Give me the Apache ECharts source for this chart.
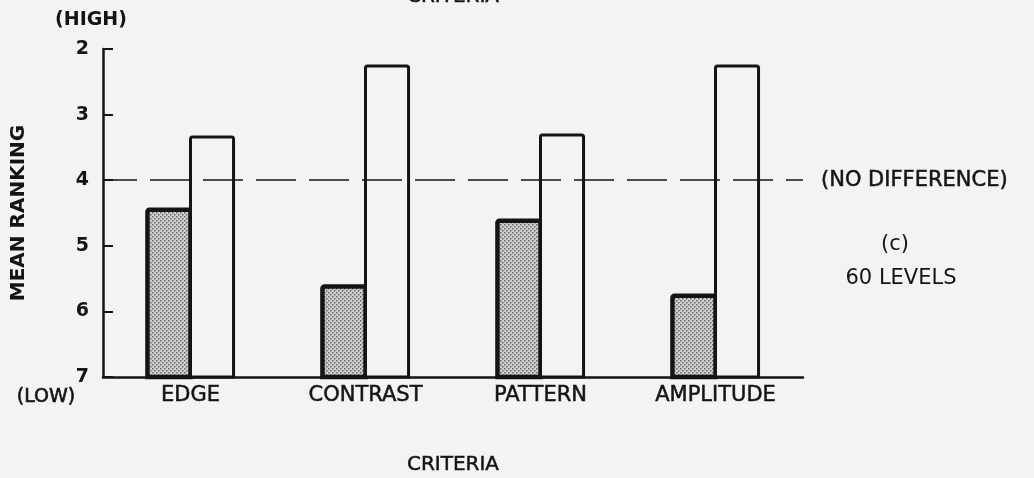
<!DOCTYPE html>
<html>
<head>
<meta charset="utf-8">
<title>Mean ranking by criteria — 60 levels</title>
<script src="https://cdn.jsdelivr.net/npm/echarts@6/dist/echarts.min.js"></script>
<style>
  html, body { margin: 0; padding: 0; background: #f3f3f1; }
  #chart { width: 1034px; height: 478px; }
</style>
</head>
<body>
<div id="chart"></div>
<script>
// Criteria along the horizontal axis
const categories = ['EDGE', 'CONTRAST', 'PATTERN', 'AMPLITUDE'];
// Mean ranking of the stippled (left) bar in each pair
const stippledValues = [4.45, 5.62, 4.62, 5.76];
// Mean ranking of the open (right) bar in each pair
const openValues = [3.34, 2.26, 3.31, 2.26];
// Ranking scale: 2 (high) at the top down to 7 (low) at the bottom
const rankTicks = [2, 3, 4, 5, 6, 7];
const noDifference = 4;

const RANK_MIN = rankTicks[0];
const RANK_MAX = rankTicks[rankTicks.length - 1];
const INK = '#141414';
const PAPER = '#f3f3f1';
const FONT = 'DejaVu Sans';

// Halftone stipple used to fill the shaded bars
function makeStipple() {
  const c = document.createElement('canvas');
  c.width = 4; c.height = 4;
  const g = c.getContext('2d');
  g.fillStyle = '#cfcfcf';
  g.fillRect(0, 0, 4, 4);
  g.fillStyle = '#666666';
  g.fillRect(0, 0, 1.5, 1.5);
  g.fillRect(2, 2, 1.5, 1.5);
  return c;
}

// Bars rise from the bottom of the (inverted) rank scale up to their value
function barRenderer(fill, side, lineWidth) {
  return function (params, api) {
    const idx = api.value(0);
    const top = api.coord([idx, api.value(1)]);
    const base = api.coord([idx, RANK_MAX]);
    const band = api.size([1, 0])[0];
    const w = band * 0.246;
    const x = side < 0 ? top[0] - w : top[0];
    return {
      type: 'rect',
      shape: { x: x, y: top[1], width: w, height: base[1] - top[1], r: [2, 2, 0, 0] },
      style: { fill: fill, stroke: INK, lineWidth: lineWidth }
    };
  };
}

const chart = echarts.init(document.getElementById('chart'), null, { renderer: 'canvas' });

const medium = { textBorderColor: INK, textBorderWidth: 0.5 };

const option = {
  backgroundColor: PAPER,
  animation: false,
  textStyle: { fontFamily: FONT, color: INK },
  grid: { left: 103, right: 231, top: 49, bottom: 101, containLabel: false },
  xAxis: {
    type: 'category',
    data: categories,
    axisLine: { lineStyle: { color: INK, width: 2.5 } },
    axisTick: { show: false },
    axisLabel: Object.assign({ fontSize: 21, color: INK, margin: 8, fontFamily: FONT }, medium)
  },
  yAxis: {
    type: 'value',
    inverse: true,
    min: RANK_MIN,
    max: RANK_MAX,
    interval: 1,
    splitLine: { show: false },
    axisLine: { show: true, lineStyle: { color: INK, width: 2.5 } },
    axisTick: { show: true, inside: true, length: 10, lineStyle: { color: INK, width: 2 } },
    axisLabel: { fontSize: 19, fontWeight: 'bold', color: INK, margin: 14, fontFamily: FONT }
  },
  series: [
    {
      type: 'custom',
      name: 'stippled',
      renderItem: barRenderer({ image: makeStipple(), repeat: 'repeat' }, -1, 4.5),
      encode: { x: 0, y: 1 },
      data: stippledValues.map((v, i) => [i, v]),
      z: 3
    },
    {
      type: 'custom',
      name: 'open',
      renderItem: barRenderer(PAPER, 1, 3),
      encode: { x: 0, y: 1 },
      data: openValues.map((v, i) => [i, v]),
      z: 3
    },
    {
      type: 'line',
      name: 'reference',
      data: [],
      silent: true,
      z: 2,
      markLine: {
        silent: true,
        symbol: ['none', 'none'],
        lineStyle: { color: INK, width: 1.6, type: [40, 13], dashOffset: 6 },
        label: Object.assign({
          show: true,
          position: 'end',
          distance: 18,
          formatter: '(NO DIFFERENCE)',
          fontSize: 21,
          color: INK,
          fontFamily: FONT
        }, medium),
        data: [{ yAxis: noDifference }]
      }
    }
  ],
  graphic: [
    { type: 'text', x: 453, y: 7, style: { text: 'CRITERIA', font: '20px "DejaVu Sans"', fill: INK, stroke: INK, lineWidth: 0.5, align: 'center', verticalAlign: 'bottom' } },
    { type: 'text', x: 91, y: 20, style: { text: '(HIGH)', font: 'bold 19px "DejaVu Sans"', fill: INK, align: 'center', verticalAlign: 'middle' } },
    { type: 'text', x: 46, y: 397, style: { text: '(LOW)', font: '19px "DejaVu Sans"', fill: INK, stroke: INK, lineWidth: 0.6, align: 'center', verticalAlign: 'middle' } },
    { type: 'text', x: 19, y: 213, rotation: Math.PI / 2, style: { text: 'MEAN RANKING', font: 'bold 20px "DejaVu Sans"', fill: INK, align: 'center', verticalAlign: 'middle' } },
    { type: 'text', x: 895, y: 245, style: { text: '(c)', font: '21px "DejaVu Sans"', fill: INK, align: 'center', verticalAlign: 'middle' } },
    { type: 'text', x: 901, y: 279, style: { text: '60 LEVELS', font: '21px "DejaVu Sans"', fill: INK, align: 'center', verticalAlign: 'middle' } },
    { type: 'text', x: 453, y: 465, style: { text: 'CRITERIA', font: '20px "DejaVu Sans"', fill: INK, stroke: INK, lineWidth: 0.5, align: 'center', verticalAlign: 'middle' } }
  ]
};

chart.setOption(option);
</script>
</body>
</html>
